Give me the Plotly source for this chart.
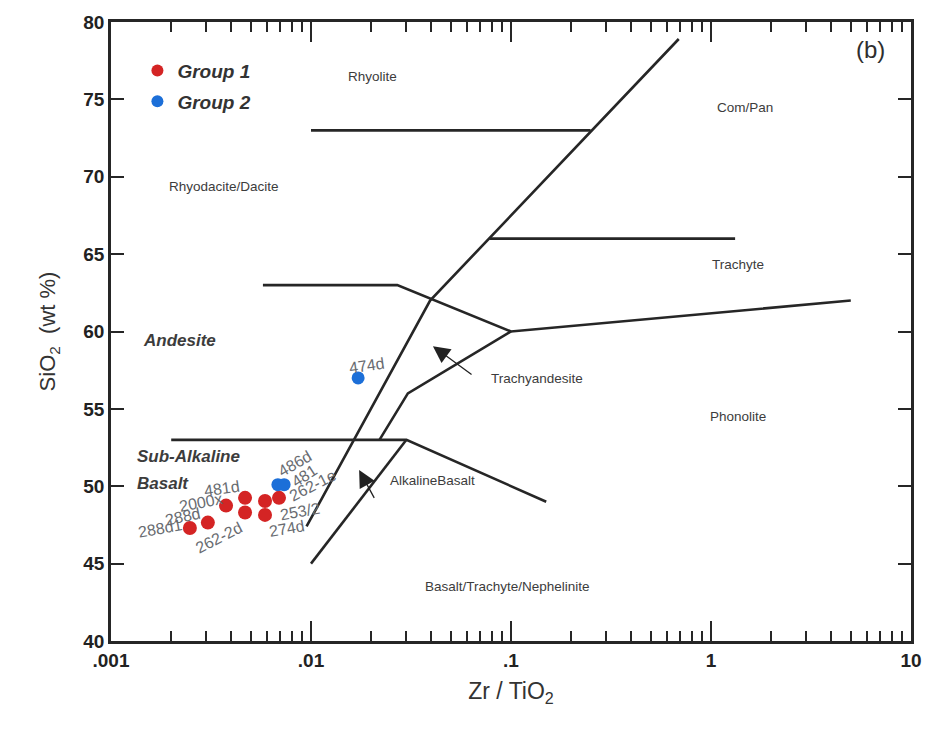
import math
import plotly.graph_objects as go

# ---- sample data (Zr/TiO2, SiO2 wt %) ----
g1_zr_ti = [0.00248, 0.00305, 0.00376, 0.00468, 0.00468, 0.00589, 0.00589, 0.00692]
g1_sio2 = [47.3, 47.65, 48.75, 49.25, 48.3, 49.05, 48.15, 49.25]

g2_zr_ti = [0.00683, 0.00734, 0.0172]
g2_sio2 = [50.1, 50.1, 57.0]

# sample labels
sample_names = ["486d", "481", "262-1e", "253/2", "274d", "262-2d",
                "481d", "2000x", "288d", "288d1", "474d"]
sample_lx = [0.00832, 0.00933, 0.0102, 0.00881, 0.00761, 0.00347,
             0.00358, 0.00281, 0.00230, 0.00176, 0.0191]
sample_ly = [51.48, 50.68, 50.03, 48.37, 47.29, 46.69,
             49.86, 48.95, 48.03, 47.25, 57.8]
sample_angle = [-30, -33, -27, -10, -10, -27, -8, -11, -12, -10, -8]

# ---- classification boundaries (Winchester & Floyd, 1977) ----
boundaries = [
    ([0.0095, 0.0394, 0.69], [47.4, 62.0, 78.9]),        # main sub-alkaline / alkaline divide
    ([0.01, 0.25], [73.0, 73.0]),                         # rhyolite / rhyodacite
    ([0.078, 1.32], [66.0, 66.0]),                        # com/pan / trachyte
    ([0.00575, 0.027, 0.1, 5.0], [63.0, 63.0, 60.0, 62.0]),  # andesite top, trachyte / phonolite
    ([0.1, 0.0305, 0.022], [60.0, 56.0, 53.0]),           # trachyandesite lower edge
    ([0.002, 0.03, 0.15], [53.0, 53.0, 49.0]),            # basalt top
    ([0.01, 0.03], [45.0, 53.0]),                         # alkaline basalt lower edge
]

# field names
field_names = ["Rhyolite", "Com/Pan", "Rhyodacite/Dacite", "Trachyte",
               "Trachyandesite", "Phonolite", "AlkalineBasalt",
               "Basalt/Trachyte/Nephelinite"]
field_x = [0.0202, 1.48, 0.00367, 1.37, 0.135, 1.37, 0.0407, 0.0955]
field_y = [76.5, 74.5, 69.4, 64.3, 56.95, 54.5, 50.35, 43.55]

# arrows: (tail x, tail y, tip x, tip y)
arrows = [
    (0.0646, 57.15, 0.0407, 59.05),
    (0.0209, 49.15, 0.0174, 51.05),
]

LINE = "#262626"
TXT = "#3c3c3c"
SANS = "Liberation Sans, Arial, Helvetica, sans-serif"

fig = go.Figure()

for bx, by in boundaries:
    fig.add_trace(go.Scatter(x=bx, y=by, mode="lines",
                             line=dict(color=LINE, width=2.6),
                             hoverinfo="skip", showlegend=False))

fig.add_trace(go.Scatter(x=g1_zr_ti, y=g1_sio2, mode="markers",
                         name="<b><i>Group 1</i></b>", legendgroup="g1",
                         marker=dict(color="#d42424", size=14, line=dict(width=0))))
fig.add_trace(go.Scatter(x=g2_zr_ti, y=g2_sio2, mode="markers",
                         name="<b><i>Group 2</i></b>", legendgroup="g2",
                         marker=dict(color="#1c6fd8", size=13, line=dict(width=0))))

ann = []
for t, x, y in zip(field_names, field_x, field_y):
    ann.append(dict(x=math.log10(x), y=y, text=t, showarrow=False,
                    font=dict(family=SANS, size=13.5, color=TXT)))

ann.append(dict(x=math.log10(0.00221), y=59.4, text="<b><i>Andesite</i></b>",
                showarrow=False, font=dict(family=SANS, size=17, color=TXT)))
ann.append(dict(x=math.log10(0.00132), y=51.95, xanchor="left",
                text="<b><i>Sub-Alkaline</i></b>", showarrow=False,
                font=dict(family=SANS, size=17, color=TXT)))
ann.append(dict(x=math.log10(0.00132), y=50.15, xanchor="left",
                text="<b><i>Basalt</i></b>", showarrow=False,
                font=dict(family=SANS, size=17, color=TXT)))
ann.append(dict(x=math.log10(6.24), y=78.2, text="(b)", showarrow=False,
                font=dict(family=SANS, size=24, color="#2e2e2e")))

for t, x, y, a in zip(sample_names, sample_lx, sample_ly, sample_angle):
    ann.append(dict(x=math.log10(x), y=y, text=t, showarrow=False,
                    textangle=a, font=dict(family=SANS, size=16, color="#686b70")))

for tx, ty, hx, hy in arrows:
    ann.append(dict(x=math.log10(hx), y=hy,
                    ax=math.log10(tx), ay=ty, axref="x", ayref="y",
                    text="", showarrow=True, arrowhead=2, arrowsize=2.6,
                    arrowwidth=1.3, arrowcolor="#222222"))

for a in ann:
    a["xref"] = "x"
    a["yref"] = "y"

minor_x = [m * 10 ** e for e in (-3, -2, -1, 0) for m in range(2, 10)]

fig.update_layout(
    width=942, height=743,
    margin=dict(l=111, r=31, t=22, b=102),
    paper_bgcolor="white", plot_bgcolor="white",
    annotations=ann,
    showlegend=True,
    legend=dict(x=0.033, y=0.952, xanchor="left", yanchor="top",
                bgcolor="rgba(0,0,0,0)", tracegroupgap=3,
                font=dict(family=SANS, size=19, color="#333"),
                itemsizing="constant"),
    xaxis=dict(type="log", range=[-3, 1],
               tickvals=[0.001, 0.01, 0.1, 1, 10],
               ticktext=["<b>.001</b>", "<b>.01</b>", "<b>.1</b>", "<b>1</b>", "<b>10</b>"],
               ticks="inside", ticklen=20, tickwidth=2, tickcolor=LINE,
               minor=dict(ticks="inside", ticklen=10, tickwidth=1.5,
                          tickcolor=LINE, tickvals=minor_x, showgrid=False),
               showline=True, linecolor=LINE, linewidth=2.5, mirror="allticks",
               showgrid=False, zeroline=False,
               tickfont=dict(family=SANS, size=19, color="#222"),
               title=dict(text="Zr / TiO<sub>2</sub>", standoff=14,
                          font=dict(family=SANS, size=23, color="#333"))),
    yaxis=dict(range=[40, 80],
               tickvals=list(range(40, 81, 5)),
               ticktext=[f"<b>{v}</b>" for v in range(40, 81, 5)],
               ticks="inside", ticklen=13, tickwidth=2, tickcolor=LINE,
               showline=True, linecolor=LINE, linewidth=2.5, mirror="allticks",
               showgrid=False, zeroline=False,
               tickfont=dict(family=SANS, size=19, color="#222"),
               title=dict(text="SiO<sub>2</sub>  (wt %)", standoff=22,
                          font=dict(family=SANS, size=22, color="#333"))),
)

fig.write_html("out.html")
